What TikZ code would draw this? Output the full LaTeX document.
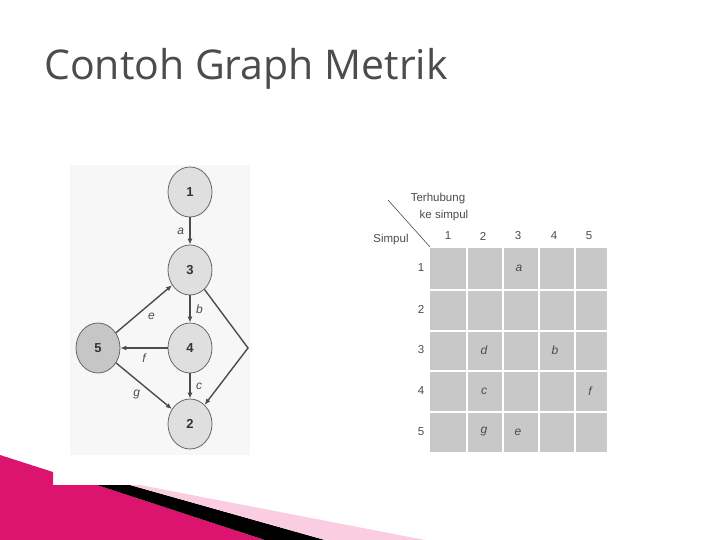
\documentclass[tikz,border=0pt]{standalone}
\usepackage{fontspec}
\setmainfont{Liberation Sans}
\newfontfamily\titlefont{Open Sans}
\usetikzlibrary{shapes.geometric,arrows.meta}
\definecolor{mag}{RGB}{220,20,110}
\definecolor{lpink}{RGB}{250,205,225}
\definecolor{cellg}{RGB}{200,200,200}
\tikzset{
 vtx/.style={ellipse,draw=gray!80!black,line width=0.8pt,fill=gray!25,minimum width=44pt,minimum height=50pt,inner sep=0pt,font=\fontsize{13}{13}\selectfont\bfseries,text=black!80},
 edg/.style={draw=black!70,line width=1.4pt,-{Latex[length=6pt,width=5pt]}},
 lab/.style={font=\fontsize{12}{12}\selectfont\itshape,text=black!70},
 hd/.style={font=\fontsize{11.5}{11.5}\selectfont,text=black!70},
 cell/.style={fill=cellg,draw=none}
}
\begin{document}
\begin{tikzpicture}[x=1pt,y=-1pt]
\useasboundingbox (0,0) rectangle (720,540);
\fill[white] (0,0) rectangle (720,540);
\fill[gray!6] (70,165) rectangle (250,455);
\node[anchor=base west,inner sep=0,font=\titlefont\fontsize{41}{41}\selectfont,text=black!70] (title) at (44,80) {Contoh Graph Metrik};
% decoration
\fill[mag] (0,455) -- (53,472) -- (53,485) -- (97,485) -- (265,540) -- (0,540) -- cycle;
\fill[black] (97,485) -- (130,485) -- (325,540) -- (265,540) -- cycle;
\fill[lpink] (130,485) -- (140,485) -- (425,540) -- (325,540) -- cycle;
% graph
\node[vtx] (n1) at (190,192) {1};
\node[vtx] (n3) at (190,270) {3};
\node[vtx] (n4) at (190,348) {4};
\node[vtx,fill=gray!45] (n5) at (98,348) {5};
\node[vtx] (n2) at (190,424) {2};
\coordinate (r) at (248,348);
\draw[edg] (n1) -- node[lab,left,xshift=-2pt]{a} (n3);
\draw[edg] (n3) -- node[lab,right,xshift=2pt]{b} (n4);
\draw[edg] (n4) -- node[lab,right,xshift=2pt]{c} (n2);
\draw[edg] (n5) -- node[lab,below right,pos=0.5]{e} (n3);
\draw[edg] (n4) -- node[lab,below,yshift=-2pt]{f} (n5);
\draw[edg] (n5) -- node[lab,below left,pos=0.5]{g} (n2);
\draw[edg] (n3) -- (r) -- (n2);
% table
\foreach \i/\xa/\xb in {1/430/466,2/468/502,3/504/538,4/540/574,5/576/607}
 \foreach \j/\ya/\yb in {1/248/289,2/291/330,3/332/370,4/372/411,5/413/452}
  \fill[cellg] (\xa,\ya) rectangle (\xb,\yb);
\foreach \x [count=\k] in {448,483,518,554,589}
  \node[hd] (c\k) at (\x,236) {\k};
\foreach \y [count=\k] in {268,309,350,391,432}
  \node[hd] (r\k) at (421,\y) {\k};
\node[hd] (simpul) at (391,240) {Simpul};
\node[hd] (terh) at (438,199) {Terhubung};
\node[hd] (kes) at (444,216) {ke simpul};
\coordinate (d1) at (388,200); \coordinate (d2) at (430,247);
\draw[black!70,line width=0.6pt] (d1) -- (d2);
\node[lab] (ea) at (519,268) {a};
\node[lab] (ed) at (484,350) {d};
\node[lab] (eb) at (555,350) {b};
\node[lab] (ec) at (484,391) {c};
\node[lab] (ef) at (590,391) {f};
\node[lab] (eg) at (484,432) {g};
\node[lab] (ee) at (518,432) {e};
\end{tikzpicture}
\end{document}
